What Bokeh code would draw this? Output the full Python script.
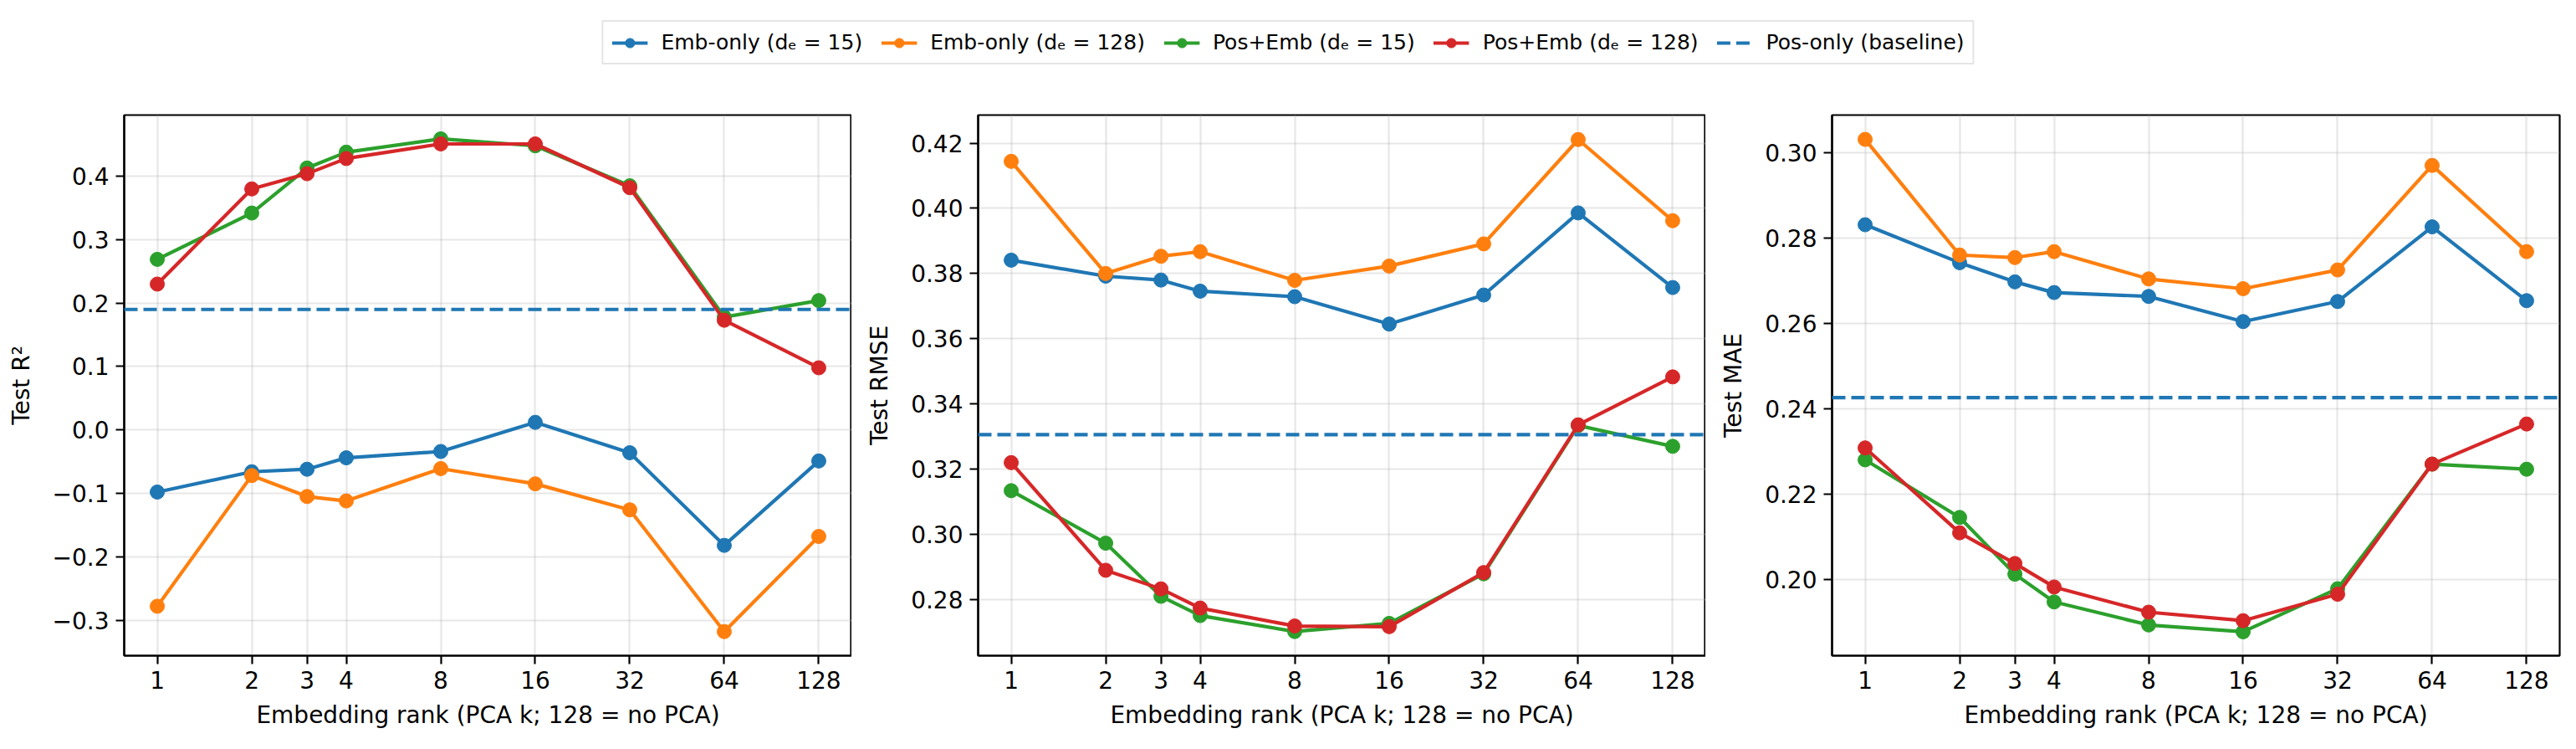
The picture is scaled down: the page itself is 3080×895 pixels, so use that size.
from bokeh.plotting import figure
from bokeh.layouts import column, row
from bokeh.models import (Range1d, FixedTicker, Span, Legend, LegendItem)
from bokeh.embed import file_html
from bokeh.resources import INLINE

# PCA rank of the embedding (128 = no PCA)
ranks = [1, 2, 3, 4, 8, 16, 32, 64, 128]

# Test R^2
r2_emb15 = [-0.098, -0.066, -0.062, -0.044, -0.034, 0.012, -0.036, -0.182, -0.049]
r2_emb128 = [-0.278, -0.072, -0.105, -0.112, -0.061, -0.085, -0.126, -0.318, -0.168]
r2_pos15 = [0.269, 0.342, 0.413, 0.438, 0.459, 0.448, 0.385, 0.178, 0.204]
r2_pos128 = [0.230, 0.380, 0.404, 0.428, 0.451, 0.451, 0.382, 0.173, 0.098]
r2_baseline = 0.190

# Test RMSE
rmse_emb15 = [0.3841, 0.3792, 0.3780, 0.3746, 0.3729, 0.3645, 0.3734, 0.3986, 0.3757]
rmse_emb128 = [0.4144, 0.3800, 0.3853, 0.3867, 0.3779, 0.3823, 0.3891, 0.4211, 0.3962]
rmse_pos15 = [0.3134, 0.2973, 0.2810, 0.2751, 0.2702, 0.2727, 0.2879, 0.3334, 0.3270]
rmse_pos128 = [0.3220, 0.2890, 0.2833, 0.2774, 0.2719, 0.2717, 0.2883, 0.3336, 0.3483]
rmse_baseline = 0.3306

# Test MAE
mae_emb15 = [0.2832, 0.2743, 0.2698, 0.2673, 0.2664, 0.2605, 0.2652, 0.2827, 0.2654]
mae_emb128 = [0.3032, 0.2761, 0.2755, 0.2769, 0.2705, 0.2682, 0.2726, 0.2971, 0.2769]
mae_pos15 = [0.2281, 0.2146, 0.2013, 0.1948, 0.1894, 0.1878, 0.1979, 0.2271, 0.2259]
mae_pos128 = [0.2309, 0.2110, 0.2038, 0.1983, 0.1924, 0.1904, 0.1966, 0.2271, 0.2365]
mae_baseline = 0.2427

series_labels = ["Emb-only (dₑ = 15)", "Emb-only (dₑ = 128)",
                 "Pos+Emb (dₑ = 15)", "Pos+Emb (dₑ = 128)"]
baseline_label = "Pos-only (baseline)"
series_colors = ["#1f77b4", "#ff7f0e", "#2ca02c", "#d62728"]

x_tick_labels = ["1", "2", "3", "4", "8", "16", "32", "64", "128"]

r2_ticks = [-0.3, -0.2, -0.1, 0.0, 0.1, 0.2, 0.3, 0.4]
r2_tick_labels = ["−0.3", "−0.2", "−0.1", "0.0", "0.1", "0.2", "0.3", "0.4"]
rmse_ticks = [0.28, 0.30, 0.32, 0.34, 0.36, 0.38, 0.40, 0.42]
rmse_tick_labels = ["0.28", "0.30", "0.32", "0.34", "0.36", "0.38", "0.40", "0.42"]
mae_ticks = [0.20, 0.22, 0.24, 0.26, 0.28, 0.30]
mae_tick_labels = ["0.20", "0.22", "0.24", "0.26", "0.28", "0.30"]

FONT = "DejaVu Sans"
FS = "28px"
FRAME_W, FRAME_H = 870, 646
TOP, BOTTOM = 37, 112
DASH = "16 7"


def panel(series, baseline, yticks, ylabels, yrange, ylabel, left, right):
    p = figure(width=left + FRAME_W + right, height=TOP + FRAME_H + BOTTOM,
               x_axis_type="log", output_backend="svg", toolbar_location=None,
               x_range=Range1d(2 ** -0.35, 2 ** 7.35), y_range=Range1d(*yrange),
               min_border_left=left, min_border_right=right,
               min_border_top=TOP, min_border_bottom=BOTTOM)
    p.outline_line_color = "black"
    p.outline_line_width = 2.2
    p.outline_line_alpha = 1.0

    for vals, col in zip(series, series_colors):
        p.line(ranks, vals, line_color=col, line_width=4.2)
        p.scatter(ranks, vals, size=17, fill_color=col, line_color=col)

    p.add_layout(Span(location=baseline, dimension="width", line_color="#1f77b4",
                      line_width=4.2, line_dash=DASH))

    p.xaxis.ticker = FixedTicker(ticks=ranks, minor_ticks=[])
    p.xaxis.major_label_overrides = {k: s for k, s in zip(ranks, x_tick_labels)}
    p.yaxis.ticker = FixedTicker(ticks=yticks, minor_ticks=[])
    p.yaxis.major_label_overrides = {k: s for k, s in zip(yticks, ylabels)}

    p.xaxis.axis_label = "Embedding rank (PCA k; 128 = no PCA)"
    p.yaxis.axis_label = ylabel
    for ax in (p.xaxis, p.yaxis):
        ax.axis_label_text_font = FONT
        ax.axis_label_text_font_size = FS
        ax.axis_label_text_font_style = "normal"
        ax.axis_label_text_color = "black"
        ax.major_label_text_font = FONT
        ax.major_label_text_font_size = FS
        ax.major_label_text_color = "black"
        ax.major_label_standoff = 8
        ax.axis_line_width = 2.2
        ax.axis_line_color = "black"
        ax.major_tick_line_width = 2.2
        ax.major_tick_line_color = "black"
        ax.major_tick_out = 10
        ax.major_tick_in = 0
        ax.minor_tick_line_color = None
    p.xaxis.axis_label_standoff = 12
    p.yaxis.axis_label_standoff = 18

    p.grid.grid_line_color = "#b0b0b0"
    p.grid.grid_line_alpha = 0.3
    p.grid.grid_line_width = 2.2
    p.xgrid.ticker = FixedTicker(ticks=ranks, minor_ticks=[])
    p.ygrid.ticker = FixedTicker(ticks=yticks, minor_ticks=[])
    return p


p1 = panel([r2_emb15, r2_emb128, r2_pos15, r2_pos128], r2_baseline,
           r2_ticks, r2_tick_labels, (-0.356, 0.4965), "Test R²", 148, 0)
p2 = panel([rmse_emb15, rmse_emb128, rmse_pos15, rmse_pos128], rmse_baseline,
           rmse_ticks, rmse_tick_labels, (0.2628, 0.4286), "Test RMSE", 151, 0)
p3 = panel([mae_emb15, mae_emb128, mae_pos15, mae_pos128], mae_baseline,
           mae_ticks, mae_tick_labels, (0.1822, 0.3089), "Test MAE", 151, 20)

# Shared legend strip across the top; its proxy glyphs sit outside the visible range
leg = figure(width=3080, height=100, output_backend="svg", toolbar_location=None,
             x_range=Range1d(0, 1), y_range=Range1d(0, 1),
             min_border_left=0, min_border_right=0, min_border_top=0, min_border_bottom=0)
leg.axis.visible = False
leg.grid.visible = False
leg.outline_line_color = None

hidden_x, hidden_y = [-10, -11], [-10, -11]
items = []
for lab, col in zip(series_labels, series_colors):
    lr = leg.line(hidden_x, hidden_y, line_color=col, line_width=4.2)
    sr = leg.scatter(hidden_x, hidden_y, size=17, fill_color=col, line_color=col)
    items.append(LegendItem(label=lab, renderers=[lr, sr]))
br = leg.line(hidden_x, hidden_y, line_color="#1f77b4", line_width=4.2, line_dash=DASH)
items.append(LegendItem(label=baseline_label, renderers=[br]))

legend = Legend(items=items, orientation="horizontal", location="top_center",
                label_text_font=FONT, label_text_font_size="25px",
                label_text_color="black",
                glyph_width=43, glyph_height=28, label_standoff=16, spacing=22,
                padding=10, margin=24,
                border_line_color="#cccccc", border_line_width=2,
                background_fill_color="white", background_fill_alpha=1.0)
leg.add_layout(legend, "center")

layout = column(leg, row(p1, p2, p3, spacing=0), spacing=0)

with open("out.html", "w") as f:
    f.write(file_html(layout, INLINE))
